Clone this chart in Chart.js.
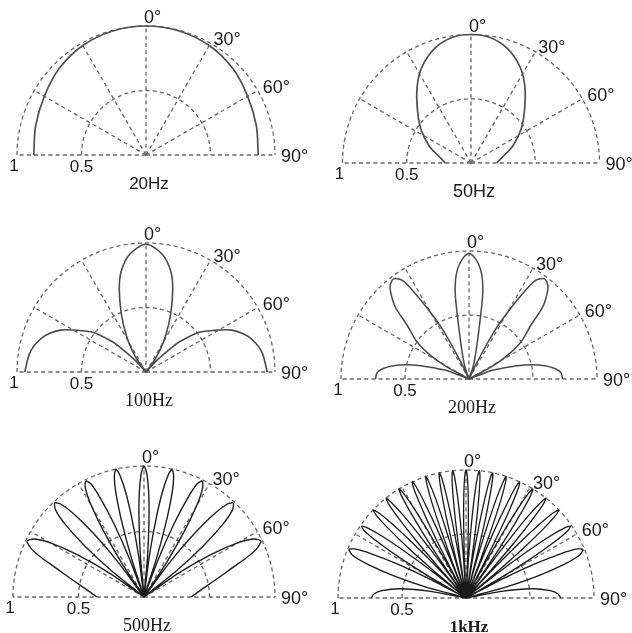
<!DOCTYPE html>
<html>
<head>
<meta charset="utf-8">
<script src="https://cdn.jsdelivr.net/npm/chart.js@4/dist/chart.umd.min.js"></script>
<style>
  html, body { margin: 0; padding: 0; background: #ffffff; }
  body { width: 632px; height: 633px; position: relative; overflow: hidden; }
  canvas { position: absolute; }
</style>
</head>
<body>
<script>
// ---------- data (right half, angle in degrees from 0° axis, relative level) ----------
const captions = ['20Hz', '50Hz', '100Hz', '200Hz', '500Hz', '1kHz'];
const angleTicks = [0, 30, 60, 90];
const angleLabels = ['0°', '30°', '60°', '90°'];
const radiusTicks = [1, 0.5];
const radiusLabels = ['1', '0.5'];
const gridAngles = [-90, -60, -30, 0, 30, 60, 90];

const ang20 = [0, 15, 30, 45, 60, 75, 90];
const rad20 = [1.0, 0.995, 0.98, 0.95, 0.91, 0.885, 0.87];

const ang50 = [0, 8, 17, 27, 35, 45, 56, 68, 79, 90];
const rad50 = [1.0, 0.99, 0.94, 0.84, 0.73, 0.59, 0.47, 0.35, 0.25, 0.2];

const ang100 = [0, 8, 14, 18, 23, 28, 33, 37, 40, 43, 46, 48, 53, 60, 64, 71, 80, 90];
const rad100 = [0.99, 0.92, 0.80, 0.67, 0.49, 0.33, 0.19, 0.08, 0, 0.12, 0.25, 0.35, 0.51, 0.65, 0.74, 0.84, 0.91, 0.94];

const ang200 = [0, 4, 7, 9, 10, 11.3, 13.8, 18, 22, 25, 26.5, 27.5, 28.5, 30.5, 32.4, 34, 37, 40.5, 44, 46, 49, 54.5, 58.5, 61.5, 65, 69, 72.5, 74.5, 77.2, 80, 83, 86, 90];
const rad200 = [0.98, 0.92, 0.82, 0.69, 0.56, 0.40, 0.24, 0.11, 0, 0.10, 0.22, 0.36, 0.48, 0.64, 0.81, 0.93, 0.98, 0.95, 0.86, 0.79, 0.64, 0.50, 0.35, 0.19, 0, 0.18, 0.29, 0.39, 0.50, 0.60, 0.675, 0.72, 0.73];

const ang500 = [0, 1.2, 2.5, 3.7, 5.0, 6.2, 7.4, 8.7, 9.9, 11.2, 12.4, 13.8, 15.2, 16.5, 17.9, 19.3, 20.8, 22.2, 23.7, 25.1, 26.6, 28.2, 29.9, 31.5, 33.2, 34.8, 36.5, 38.3, 40.0, 41.8, 43.5, 45.4, 47.3, 49.2, 51.1, 53.0, 55.3, 57.6, 59.9, 62.2, 64.5, 67, 69, 72, 77, 85, 90];
const rad500 = [1.0, 0.95, 0.81, 0.59, 0.31, 0, 0.31, 0.59, 0.81, 0.95, 1.0, 0.95, 0.81, 0.59, 0.31, 0, 0.31, 0.59, 0.81, 0.95, 0.99, 0.95, 0.81, 0.59, 0.31, 0, 0.31, 0.59, 0.81, 0.95, 0.99, 0.95, 0.82, 0.6, 0.31, 0, 0.32, 0.6, 0.82, 0.95, 0.99, 0.93, 0.84, 0.70, 0.55, 0.41, 0.36];

const ang1k = [0, 0.6, 1.2, 1.8, 2.4, 3, 3.6, 4.2, 4.8, 5.4, 6, 6.6, 7.2, 7.8, 8.4, 9, 9.6, 10.2, 10.8, 11.4, 12, 12.6, 13.2, 13.9, 14.5, 15.1, 15.7, 16.4, 17, 17.7, 18.3, 18.9, 19.6, 20.2, 20.9, 21.5, 22.2, 22.8, 23.5, 24.1, 24.8, 25.5, 26.1, 26.8, 27.4, 28.1, 28.8, 29.5, 30.1, 30.8, 31.5, 32.2, 32.9, 33.6, 34.3, 35, 35.7, 36.5, 37.2, 38, 38.7, 39.5, 40.2, 41, 41.7, 42.5, 43.3, 44.1, 44.9, 45.7, 46.5, 47.4, 48.2, 49.1, 49.9, 50.8, 51.7, 52.7, 53.6, 54.6, 55.5, 56.6, 57.7, 58.8, 59.9, 61, 62.3, 63.6, 64.9, 66.2, 67.5, 69.3, 71.1, 72.9, 74.7, 76.5, 79.5, 82, 85, 87.5, 90];
const rad1k = [1.0, 0.95, 0.81, 0.59, 0.31, 0,
  0.31, 0.59, 0.81, 0.95, 1.0, 0.95, 0.81, 0.59, 0.31, 0,
  0.31, 0.59, 0.81, 0.95, 1.0, 0.95, 0.81, 0.59, 0.31, 0,
  0.31, 0.59, 0.81, 0.95, 1.0, 0.95, 0.81, 0.59, 0.31, 0,
  0.31, 0.59, 0.81, 0.95, 1.0, 0.95, 0.81, 0.59, 0.31, 0,
  0.31, 0.59, 0.81, 0.95, 1.0, 0.95, 0.81, 0.59, 0.31, 0,
  0.31, 0.59, 0.81, 0.95, 1.0, 0.95, 0.81, 0.59, 0.31, 0,
  0.31, 0.59, 0.81, 0.95, 1.0, 0.95, 0.81, 0.59, 0.31, 0,
  0.31, 0.59, 0.81, 0.95, 0.99, 0.95, 0.81, 0.59, 0.31, 0,
  0.31, 0.59, 0.81, 0.95, 0.99, 0.95, 0.81, 0.59, 0.31, 0,
  0.28, 0.52, 0.66, 0.72, 0.74];

const seriesAngles = [ang20, ang50, ang100, ang200, ang500, ang1k];
const seriesRadii  = [rad20, rad50, rad100, rad200, rad500, rad1k];

// ---------- layout and styles ----------
const CELL_W = 316, CELL_H = 211;
const panelLayout = [
  { left: 0,   top: 0,   cx: 146, cy: 155, R: 129, cap: '17px "Liberation Sans"', line: '#505050', lw: 1.7, tension: 0.35 },
  { left: 316, top: 0,   cx: 155, cy: 163, R: 128.5, cap: '18px "Liberation Sans"', line: '#505050', lw: 1.7, tension: 0.35 },
  { left: 0,   top: 211, cx: 146, cy: 161, R: 129, cap: '18px "Liberation Serif"', line: '#4a4a4a', lw: 1.6, tension: 0.3 },
  { left: 316, top: 211, cx: 153, cy: 168, R: 128, cap: '18px "Liberation Serif"', line: '#4a4a4a', lw: 1.5, tension: 0.3 },
  { left: 0,   top: 422, cx: 144, cy: 175, R: 131, cap: '18px "Liberation Serif"', line: '#1e1e1e', lw: 1.4, tension: 0.22 },
  { left: 316, top: 422, cx: 150, cy: 176, R: 128, cap: 'bold 17px "Liberation Serif"', line: '#1a1a1a', lw: 1.3, tension: 0.2 }
];
const angleLabelOffsets = [[-2, -9], [3, -5], [5, -4], [6, 1]];
const radiusLabelOffsets = [[-3, 10], [0, 11]];
const captionOffset = [3, 28];
const LABEL_FONT = 18, RLABEL_FONT = 17;

function toXY(deg, r) {
  const t = deg * Math.PI / 180;
  return { x: r * Math.sin(t), y: r * Math.cos(t) };
}
function fullCurve(angles, radii) {
  const pts = [];
  for (let i = angles.length - 1; i >= 0; i--) {
    if (angles[i] === 0) continue;
    pts.push(toXY(-angles[i], radii[i]));
  }
  for (let i = 0; i < angles.length; i++) pts.push(toXY(angles[i], radii[i]));
  return pts;
}

const polarGrid = {
  id: 'polarGrid',
  beforeDatasetsDraw(chart) {
    const xs = chart.scales.x, ys = chart.scales.y, ctx = chart.ctx;
    const x0 = xs.getPixelForValue(0), y0 = ys.getPixelForValue(0);
    ctx.save();
    ctx.strokeStyle = '#666666';
    ctx.lineWidth = 1.3;
    ctx.setLineDash([4, 3.2]);
    radiusTicks.forEach(r => {
      const rp = xs.getPixelForValue(r) - x0;
      ctx.beginPath();
      ctx.arc(x0, y0, rp, Math.PI, 2 * Math.PI);
      ctx.stroke();
    });
    gridAngles.forEach(a => {
      const p = toXY(a, 1);
      ctx.beginPath();
      ctx.moveTo(x0, y0);
      ctx.lineTo(xs.getPixelForValue(p.x), ys.getPixelForValue(p.y));
      ctx.stroke();
    });
    ctx.restore();
  },
  afterDraw(chart) {
    const xs = chart.scales.x, ys = chart.scales.y, ctx = chart.ctx;
    const o = chart.options.plugins.polarGrid;
    ctx.save();
    ctx.fillStyle = '#1a1a1a';
    ctx.font = LABEL_FONT + 'px "Liberation Sans"';
    ctx.textAlign = 'left';
    ctx.textBaseline = 'alphabetic';
    angleTicks.forEach((a, i) => {
      const p = toXY(a, 1);
      const px = xs.getPixelForValue(p.x) + angleLabelOffsets[i][0];
      const py = ys.getPixelForValue(p.y) + angleLabelOffsets[i][1] + 0.36 * LABEL_FONT;
      ctx.fillText(angleLabels[i], px, py);
    });
    ctx.font = RLABEL_FONT + 'px "Liberation Sans"';
    ctx.textAlign = 'center';
    radiusTicks.forEach((r, i) => {
      const px = xs.getPixelForValue(-r) + radiusLabelOffsets[i][0];
      const py = ys.getPixelForValue(0) + radiusLabelOffsets[i][1] + 0.36 * RLABEL_FONT;
      ctx.fillText(radiusLabels[i], px, py);
    });
    ctx.font = o.capFont;
    ctx.fillText(o.caption, xs.getPixelForValue(0) + captionOffset[0], ys.getPixelForValue(0) + captionOffset[1] + 0.34 * 18);
    ctx.restore();
  }
};

panelLayout.forEach((pl, k) => {
  const c = document.createElement('canvas');
  c.width = CELL_W; c.height = CELL_H;
  c.style.left = pl.left + 'px'; c.style.top = pl.top + 'px';
  c.style.width = CELL_W + 'px'; c.style.height = CELL_H + 'px';
  document.body.appendChild(c);
  new Chart(c, {
    type: 'scatter',
    data: {
      datasets: [{
        label: captions[k],
        data: fullCurve(seriesAngles[k], seriesRadii[k]),
        showLine: true,
        borderColor: pl.line,
        borderWidth: pl.lw,
        pointRadius: 0,
        tension: pl.tension,
        fill: false
      }]
    },
    options: {
      responsive: false,
      animation: false,
      devicePixelRatio: 1,
      events: [],
      layout: { padding: 0 },
      plugins: {
        legend: { display: false },
        tooltip: { enabled: false },
        polarGrid: { caption: captions[k], capFont: pl.cap }
      },
      scales: {
        x: { type: 'linear', display: false, min: -pl.cx / pl.R, max: (CELL_W - pl.cx) / pl.R },
        y: { type: 'linear', display: false, min: -(CELL_H - pl.cy) / pl.R, max: pl.cy / pl.R }
      }
    },
    plugins: [polarGrid]
  });
});
</script>
</body>
</html>
